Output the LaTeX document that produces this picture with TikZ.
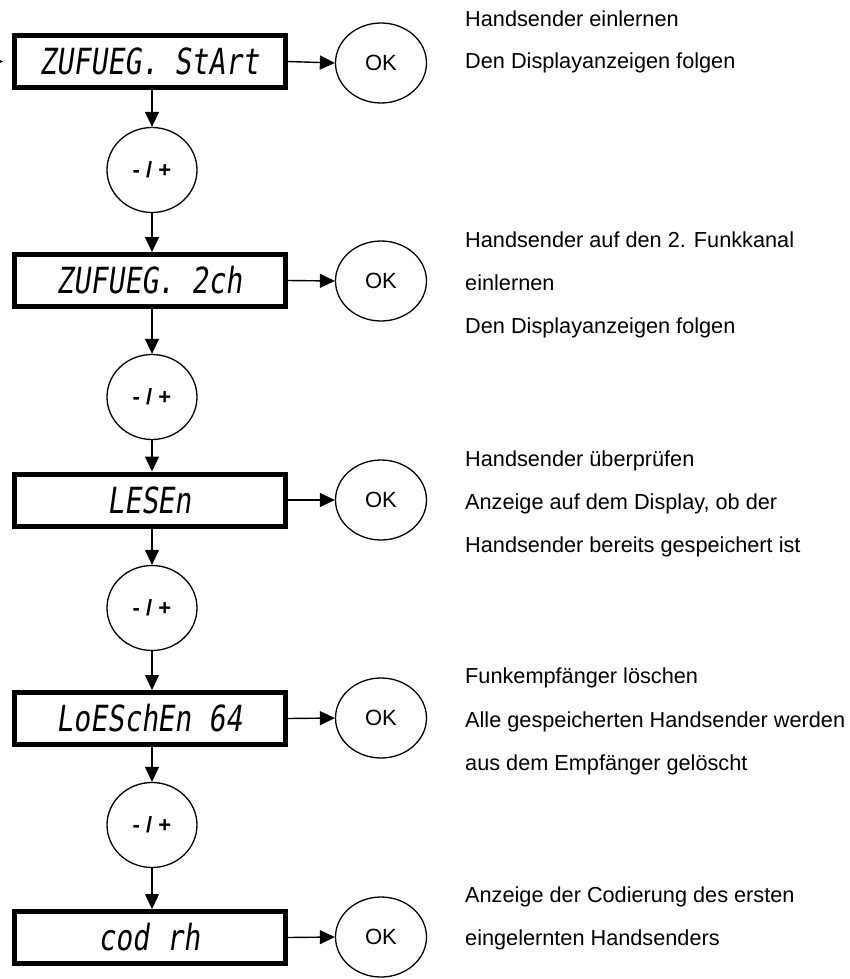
\documentclass[tikz,border=0pt]{standalone}
\usepackage{fontspec}
\setmainfont{Liberation Sans}
\newfontfamily\lcdfont[FakeSlant=0.14,FakeStretch=0.78]{DejaVu Sans Mono}
\usetikzlibrary{shapes.geometric,arrows.meta}

\tikzset{
	lcdbox/.style={draw, line width=5pt, minimum width=271pt, minimum height=52pt, inner sep=0pt, font=\lcdfont\fontsize{36}{36}\selectfont},
	keybox/.style={draw, ellipse, line width=1.3pt, minimum width=90pt, minimum height=85pt, inner sep=0pt, font=\bfseries\fontsize{22}{22}\selectfont},
	okbox/.style={draw, ellipse, line width=1.3pt, minimum width=91pt, minimum height=80pt, inner sep=0pt, font=\fontsize{22}{22}\selectfont},
	note/.style={anchor=base west, inner sep=0pt, font=\fontsize{21.7}{22}\selectfont},
	flow/.style={-{Triangle[length=15pt,width=14pt]}, line width=1.4pt}
}

\begin{document}
\begin{tikzpicture}[x=1pt, y=-1pt]
					% page
					\useasboundingbox (0,0) rectangle (849,979);
					
					% displays
					\node[lcdbox] (d1) at (149.5, 61.5) {ZUFUEG. StArt};
					\node[lcdbox] (d2) at (149.5, 280.5) {ZUFUEG. 2ch};
					\node[lcdbox] (d3) at (149.5, 500) {LESEn};
					\node[lcdbox] (d4) at (149.5, 718.5) {LoESchEn 64};
					\node[lcdbox] (d5) at (149.5, 937.5) {cod rh};
					
					% keys
					\node[keybox] (k1) at (152, 170) {- / +};
					\node[keybox] (k2) at (152, 397) {- / +};
					\node[keybox] (k3) at (152, 608) {- / +};
					\node[keybox] (k4) at (152, 825) {- / +};
					
					\node[okbox] (ok1) at (381, 63) {OK};
					\node[okbox] (ok2) at (381, 281) {OK};
					\node[okbox] (ok3) at (381, 500) {OK};
					\node[okbox] (ok4) at (381, 718) {OK};
					\node[okbox] (ok5) at (381, 937) {OK};
					
					% arrows
					\coordinate (in) at (-40, 61.5);
					\coordinate (entry) at (3, 61.5);
					\draw[flow] (in) -- (entry);
					
					\draw[flow] (d1.south -| k1) -- (k1.north);
					\draw[flow] (k1.south) -- (d2.north -| k1);
					\draw[flow] (d2.south -| k2) -- (k2.north);
					\draw[flow] (k2.south) -- (d3.north -| k2);
					\draw[flow] (d3.south -| k3) -- (k3.north);
					\draw[flow] (k3.south) -- (d4.north -| k3);
					\draw[flow] (d4.south -| k4) -- (k4.north);
					\draw[flow] (k4.south) -- (d5.north -| k4);
					
					\draw[flow] (d1.east) -- (ok1.west);
					\draw[flow] (d2.east) -- (ok2.west);
					\draw[flow] (d3.east) -- (ok3.west);
					\draw[flow] (d4.east) -- (ok4.west);
					\draw[flow] (d5.east) -- (ok5.west);
					
					% text
					\node[note] (t11) at (465, 27) {Handsender einlernen};
					\node[note] (t12) at (465, 69) {Den Displayanzeigen folgen};
					
					\node[note] (t21) at (465, 247) {Handsender auf den 2. Funkkanal};
					\node[note] (t22) at (465, 290) {einlernen};
					\node[note] (t23) at (465, 333) {Den Displayanzeigen folgen};
					
					\node[note] (t31) at (465, 466) {Handsender überprüfen};
					\node[note] (t32) at (465, 509) {Anzeige auf dem Display, ob der};
					\node[note] (t33) at (465, 552) {Handsender bereits gespeichert ist};
					
					\node[note] (t41) at (465, 683) {Funkempfänger löschen};
					\node[note] (t42) at (465, 727) {Alle gespeicherten Handsender werden};
					\node[note] (t43) at (465, 770) {aus dem Empfänger gelöscht};
					
					\node[note] (t51) at (465, 902) {Anzeige der Codierung des ersten};
					\node[note] (t52) at (465, 945) {eingelernten Handsenders};
					\end{tikzpicture}
\end{document}
